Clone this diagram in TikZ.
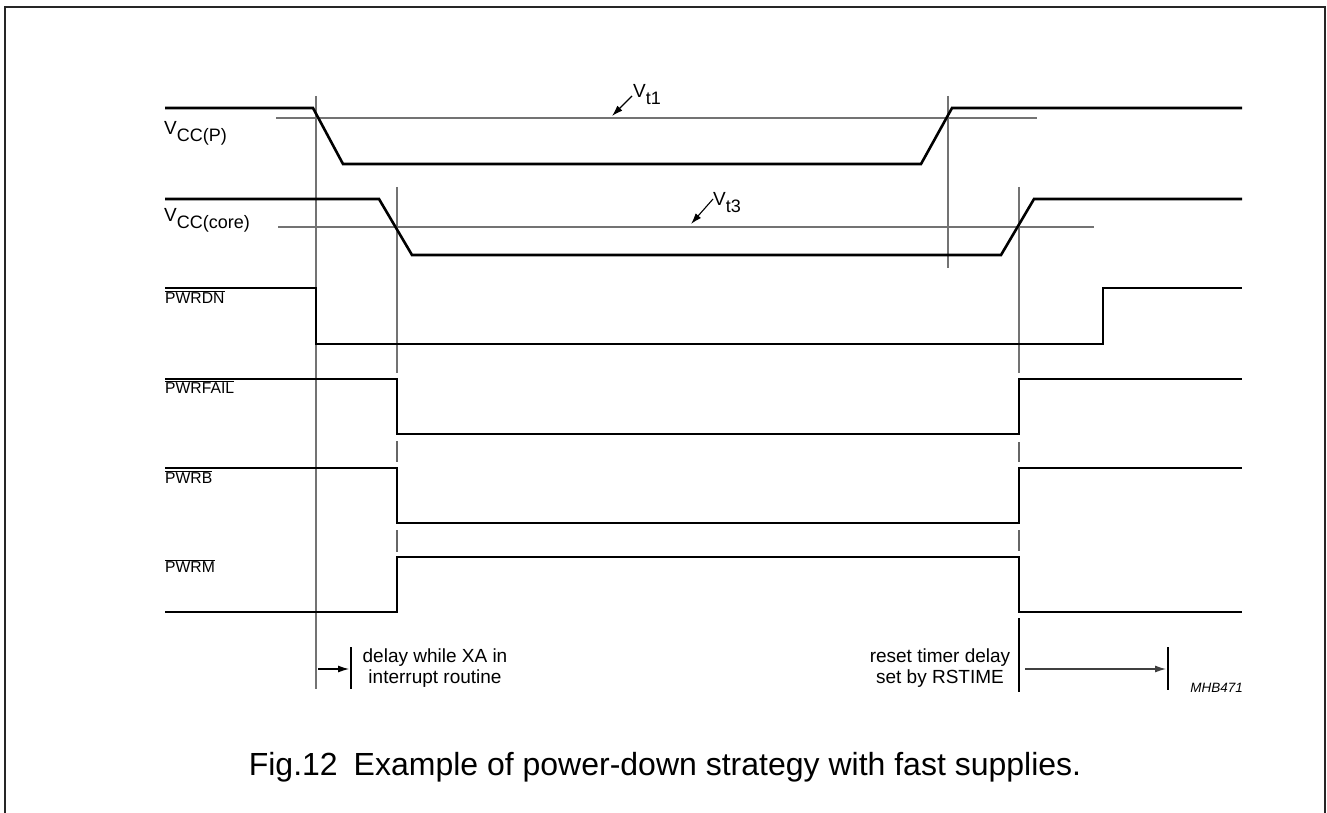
\documentclass[tikz,border=0pt]{standalone}
\usepackage{fontspec}
\setmainfont{Liberation Sans}
\usetikzlibrary{arrows.meta}
\newcommand\lsub[1]{\raisebox{-0.36em}{\fontsize{18}{18}\selectfont #1}}
\begin{document}
\begin{tikzpicture}[x=1pt,y=-1pt,
  sig/.style={line width=2.6pt, line join=miter, line cap=butt},
  thinl/.style={line width=1.1pt, draw=black!55},
  dashl/.style={line width=1.1pt, draw=black!60},
  lbl/.style={inner sep=0pt, anchor=base west, font=\fontsize{15.7}{19}\selectfont},
  vlbl/.style={inner sep=0pt, anchor=base west, font=\fontsize{19}{21}\selectfont},
  note/.style={inner sep=0pt, align=center, font=\fontsize{19}{21.5}\selectfont},
  arr/.style={-{Latex[length=11pt,width=7pt]}, line width=1.1pt},
]
\useasboundingbox (0,0) rectangle (1327,813);
% frame
\draw[line width=1.6pt, draw=black!85] (5,813) -- (5,7) -- (1325,7) -- (1325,813);

% threshold and reference lines
\draw[thinl] (276,118) -- (1037,118);
\draw[thinl] (278,227) -- (1094,227);
\draw[thinl] (316,96) -- (316,689);
\draw[thinl] (948,96) -- (948,268);
\draw[thinl] (397,187) -- (397,373);
\draw[dashl] (397,441) -- (397,462);
\draw[dashl] (397,530) -- (397,552);
\draw[thinl] (1019,187) -- (1019,373);
\draw[dashl] (1019,442) -- (1019,462);
\draw[dashl] (1019,530) -- (1019,551);
\draw[line width=1.1pt] (1019,618) -- (1019,692);
\draw[line width=1.1pt] (351,647) -- (351,689);
\draw[line width=1.1pt] (1168,647) -- (1168,690);

% signals
\draw[sig] (165,108) -- (313,108) -- (343,164) -- (921,164) -- (952,108) -- (1242,108);
\draw[sig] (165,199) -- (379,199) -- (412,255) -- (1001,255) -- (1034,199) -- (1242,199);
\draw[sig] (165,288) -- (316,288) -- (316,344) -- (1103,344) -- (1103,288) -- (1242,288);
\draw[sig] (165,379) -- (397,379) -- (397,434) -- (1019,434) -- (1019,379) -- (1242,379);
\draw[sig] (165,468) -- (397,468) -- (397,523) -- (1019,523) -- (1019,468) -- (1242,468);
\draw[sig] (165,612) -- (397,612) -- (397,557) -- (1019,557) -- (1019,612) -- (1242,612);

% signal labels
\node[vlbl] (vccp) at (164,135) {V\lsub{CC(P)}};
\node[vlbl] (vccc) at (164,222) {V\lsub{CC(core)}};
\node[lbl] (pwrdn) at (165,303) {$\overline{\hbox{PWRDN}}$};
\node[lbl] (pwrfail) at (165,393) {$\overline{\hbox{PWRFAIL}}$};
\node[lbl] (pwrb) at (165,483) {$\overline{\hbox{PWRB}}$};
\node[lbl] (pwrm) at (165,572) {$\overline{\hbox{PWRM}}$};

% threshold labels and arrows
\node[vlbl] (vt1) at (633,98) {V\lsub{t1}};
\coordinate (vt1s) at (632,96);
\coordinate (vt1e) at (612,116);
\draw[arr] (vt1s) -- (vt1e);
\node[vlbl] (vt3) at (713,206) {V\lsub{t3}};
\coordinate (vt3s) at (713,199);
\coordinate (vt3e) at (691,224);
\draw[arr] (vt3s) -- (vt3e);

% delay annotations
\coordinate (d1s) at (318,669);
\coordinate (d1e) at (349,669);
\draw[arr] (d1s) -- (d1e);
\node[note] (d1) at (435,668) {delay while XA in\\interrupt routine};
\coordinate (d2s) at (1025,669);
\coordinate (d2e) at (1166,669);
\draw[arr, draw=black!75] (d2s) -- (d2e);
\node[note] (d2) at (940,668) {reset timer delay\\set by RSTIME};
\node[inner sep=0pt, anchor=base east, font=\fontsize{13.5}{14}\selectfont\itshape] (code) at (1243,692) {MHB471};

% caption
\node[inner sep=0pt, font=\fontsize{32}{35}\selectfont] (cap) at (665,767) {Fig.12\hspace{0.5em}Example of power-down strategy with fast supplies.};
\end{tikzpicture}
\end{document}
